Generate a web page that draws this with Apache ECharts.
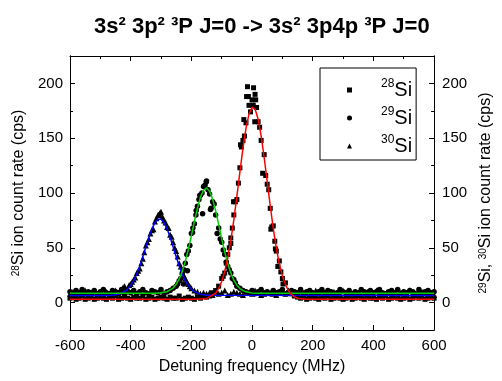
<!DOCTYPE html>
<html><head><meta charset="utf-8">
<script src="https://cdn.jsdelivr.net/npm/echarts@6/dist/echarts.min.js"></script>
<style>html,body{margin:0;padding:0;background:#fff}#c{width:502px;height:381px}</style>
</head><body><div id="c"></div>
<script>
// shared scan frequencies (MHz)
const freq = [-600,-590,-580,-570,-560,-550,-540,-530,-520,-510,-500,-490,-480,-470,-460,-450,-440,-430,-420,-410,-400,-390,-380,-370,-360,-350,-340,-330,-320,-310,-300,-290,-280,-270,-260,-250,-240,-230,-220,-210,-200,-190,-180,-170,-160,-150,-140,-130,-120,-110,-100,-90,-80,-70,-60,-50,-40,-30,-20,-10,0,10,20,30,40,50,60,70,80,90,100,110,120,130,140,150,160,170,180,190,200,210,220,230,240,250,260,270,280,290,300,310,320,330,340,350,360,370,380,390,400,410,420,430,440,450,460,470,480,490,500,510,520,530,540,550,560,570,580,590,600];
const si28 = [4,5,3,4,6,3,4,5,3,4,5,4,3,5,4,6,3,4,5,4,3,5,4,4,6,3,4,5,3,4,5,4,3,5,4,4,6,3,4,5,4,3,5,4,6,
  5,6,9,11,15,22,27,44,54,80,94,123,148,164,180,185,190,165,148,135,108,86,70,47,38,22,18,9,8,6,5,
  4,5,3,4,5,4,3,5,4,6,3,4,5,4,3,4,5,3,4,6,4,3,5,4,4,3,5,4,6,3,4,5,4,3,4,5,3,4,6,4,5,3,4,5,4];
const si29 = [10,8,11,9,12,8,10,9,11,8,10,12,9,8,11,10,9,12,8,10,9,11,8,10,12,9,8,11,10,9,12,8,10,11,13,
  15,20,27,36,47,63,72,88,98,106,111,99,92,80,68,55,44,33,27,21,15,13,11,10,
  9,11,8,10,12,9,10,8,11,9,10,12,8,9,11,10,9,12,8,10,11,9,8,10,12,9,11,10,8,9,12,10,9,11,8,10,9,12,10,8,11,9,10,12,9,8,10,11,9,12,8,10,9,11,10,8,12,9,10,11,9,10];
const si30 = [8,10,7,9,8,11,7,9,10,8,9,7,10,8,9,11,8,
  10,15,13,17,21,27,31,40,52,58,66,74,80,83,75,69,62,55,47,36,28,22,17,13,11,10,8,9,
  8,9,7,10,8,9,11,7,8,10,9,8,7,10,9,8,11,9,7,8,10,9,8,7,9,10,8,11,9,7,8,10,9,8,7,9,11,8,10,9,7,8,10,9,8,11,7,9,8,10,9,7,8,10,9,8,11,9,7,8,10,9,8,7,9,10,8,11,9,7,8,10,9,8,9,7];
// additional points recorded across the resonances
const si28PeakX = [-95,-85,-75,-65,-55,-45,-35,-25,-15,-5,5,15,25,35,45,55,65,75,85,95,-18,4,-27,9,-12,12,-38,62,77,102,-70,-61];
const si28PeakY = [24,36,50,68,92,109,142,152,197,174,196,178,160,118,116,103,69,56,33,28,188,180,167,165,188,185,144,67,49,17,59,92];
const si29PeakX = [-245,-235,-225,-215,-205,-195,-185,-175,-165,-155,-145,-135,-125,-115,-105,-95,-85,-75,-65,-55,-151,-172,-137,-163,-184,-196,-213,-226];
const si29PeakY = [17,22,30,44,52,68,80,94,100,107,103,86,90,63,58,48,37,30,22,18,110,98,85,81,84,64,29,17];
const si30PeakX = [-425,-415,-405,-395,-385,-375,-365,-355,-345,-335,-325,-315,-305,-295,-285,-275,-265,-255,-245,-235,-225,-215,-205,-303,-308];
const si30PeakY = [14,12,16,19,23,29,36,46,55,63,67,77,81,78,73,68,60,50,42,33,25,19,15,82,80];
// Gaussian fit curves
const fit28Freq = [-600,-200,-150,-120,-110,-100,-90,-80,-70,-60,-50,-40,-30,-20,-10,0,10,20,30,40,50,60,70,80,90,100,110,120,130,140,150,160,180,200,600];
const fit28Rate = [3,3,3.6,8.7,12.9,19.3,28.4,40.7,56.5,75.5,97,119.3,140.7,159,172,178.1,176.6,167.6,152.2,132.4,110.4,88.2,67.6,49.8,35.4,24.4,16.4,11,7.4,5.2,4,3.4,3.1,3,3];
const fit29Freq = [-600,-320,-300,-280,-260,-250,-240,-230,-220,-210,-200,-190,-180,-170,-160,-150,-140,-130,-120,-110,-100,-90,-80,-70,-60,-50,-40,-30,-20,0,20,600];
const fit29Rate = [8.5,8.5,8.9,10,13.3,16.7,21.6,28.5,37.5,48.5,61,74,86.2,96.2,102.6,104.5,101.6,94.4,83.9,71.4,58.4,46.2,35.5,27,20.5,15.9,12.8,10.9,9.8,8.8,8.6,8.5];
const fit30Freq = [-600,-480,-460,-440,-420,-410,-400,-390,-380,-370,-360,-350,-340,-330,-320,-310,-300,-290,-280,-270,-260,-250,-240,-230,-220,-210,-200,-190,-170,-150,-130,600];
const fit30Rate = [6.5,6.5,6.8,7.6,10,12.3,15.6,20.1,26.1,33.4,41.8,50.8,59.6,67.3,73,76.1,76.1,73,67.3,59.6,50.8,41.8,33.4,26.1,20.1,15.6,12.3,10,7.6,6.8,6.6,6.5];
const xTicks = [-600,-400,-200,0,200,400,600];
const yTicks = [0,50,100,150,200];
const yMinorTicks = [-25,25,75,125,175,225];

const zip = (a, b) => a.map((v, i) => [v, b[i]]);
const FF = '"Liberation Sans", Arial, sans-serif';
const chart = echarts.init(document.getElementById('c'), null, {renderer: 'canvas'});

const xBase = {
  type: 'value', min: xTicks[0], max: xTicks[xTicks.length - 1], interval: 200,
  axisLine: {show: true, onZero: false, lineStyle: {color: '#000', width: 1}},
  axisTick: {show: true, inside: true, length: 5, lineStyle: {color: '#000'}},
  minorTick: {show: true, splitNumber: 2, length: 3, lineStyle: {color: '#000'}},
  splitLine: {show: false}
};
const yBase = {
  type: 'value', min: -25, max: 225, interval: 25,
  axisLine: {show: true, onZero: false, lineStyle: {color: '#000', width: 1}},
  splitLine: {show: false}
};
const supRich = {sup: {fontSize: 10, verticalAlign: 'top', fontFamily: FF, color: '#000'}};

chart.setOption({
  animation: false,
  backgroundColor: '#fff',
  title: {
    text: '3s² 3p² ³P J=0 -> 3s² 3p4p ³P J=0',
    left: 89, top: 11,
    textStyle: {fontSize: 22, fontWeight: 'bold', color: '#000', fontFamily: FF}
  },
  grid: {left: 70, right: 62, top: 56, bottom: 51, containLabel: false},
  legend: {
    data: ['28Si', '29Si', '30Si'],
    orient: 'vertical', left: 320, top: 68,
    padding: [10, 4, 4, 27], itemGap: 6, itemWidth: 5, itemHeight: 5,
    borderColor: '#000', borderWidth: 1,
    formatter: n => '{sup|' + n.slice(0, 2) + '}{si|Si}',
    textStyle: {
      color: '#000', fontFamily: FF,
      rich: {
        sup: {fontSize: 12, verticalAlign: 'top', padding: [0, 0, 0, 24], color: '#000', fontFamily: FF, lineHeight: 14},
        si: {fontSize: 20, lineHeight: 24, color: '#000', fontFamily: FF}
      }
    }
  },
  xAxis: [
    Object.assign({}, xBase, {
      position: 'bottom',
      axisLabel: {color: '#000', fontSize: 15, margin: 8, fontFamily: FF},
      name: 'Detuning frequency (MHz)', nameLocation: 'middle', nameGap: 29,
      nameTextStyle: {color: '#000', fontSize: 16, fontFamily: FF}
    }),
    Object.assign({}, xBase, {position: 'top', axisLabel: {show: false}})
  ],
  yAxis: [
    Object.assign({}, yBase, {
      position: 'left',
      axisTick: {show: true, inside: true, length: 5, customValues: yTicks, lineStyle: {color: '#000'}},
      axisLabel: {color: '#000', fontSize: 15, margin: 7, fontFamily: FF, customValues: yTicks},
      name: '{sup|28}Si ion count rate (cps)', nameLocation: 'middle', nameGap: 39, nameRotate: 90,
      nameTextStyle: {color: '#000', fontSize: 16, fontFamily: FF, rich: supRich}
    }),
    Object.assign({}, yBase, {
      position: 'left',
      axisTick: {show: true, inside: true, length: 3, customValues: yMinorTicks, lineStyle: {color: '#000'}},
      axisLabel: {show: false}
    }),
    Object.assign({}, yBase, {
      position: 'right',
      axisTick: {show: true, inside: true, length: 5, customValues: yTicks, lineStyle: {color: '#000'}},
      axisLabel: {color: '#000', fontSize: 15, margin: 8, fontFamily: FF, customValues: yTicks},
      name: '{sup|29}Si, {sup|30}Si ion count rate (cps)', nameLocation: 'middle', nameGap: 43, nameRotate: 90,
      nameTextStyle: {color: '#000', fontSize: 16, fontFamily: FF, rich: supRich}
    }),
    Object.assign({}, yBase, {
      position: 'right',
      axisTick: {show: true, inside: true, length: 3, customValues: yMinorTicks, lineStyle: {color: '#000'}},
      axisLabel: {show: false}
    })
  ],
  series: [
    {name: '28Si', type: 'scatter', symbol: 'rect', symbolSize: 5, itemStyle: {color: '#000', opacity: 1},
     data: zip(freq, si28).concat(zip(si28PeakX, si28PeakY)), z: 2},
    {name: '29Si', type: 'scatter', symbol: 'circle', symbolSize: 5.5, itemStyle: {color: '#000', opacity: 1},
     data: zip(freq, si29).concat(zip(si29PeakX, si29PeakY)), z: 2},
    {name: '30Si', type: 'scatter', symbol: 'triangle', symbolSize: 6, itemStyle: {color: '#000', opacity: 1},
     data: zip(freq, si30).concat(zip(si30PeakX, si30PeakY)), z: 2},
    {name: 'fit30', type: 'line', showSymbol: false, symbol: 'none', lineStyle: {color: '#0000ff', width: 1.5},
     data: zip(fit30Freq, fit30Rate), z: 3},
    {name: 'fit29', type: 'line', showSymbol: false, symbol: 'none', lineStyle: {color: '#00d000', width: 1.5},
     data: zip(fit29Freq, fit29Rate), z: 3},
    {name: 'fit28', type: 'line', showSymbol: false, symbol: 'none', lineStyle: {color: '#ff0000', width: 1.5},
     data: zip(fit28Freq, fit28Rate), z: 3}
  ]
});
</script>
</body></html>
